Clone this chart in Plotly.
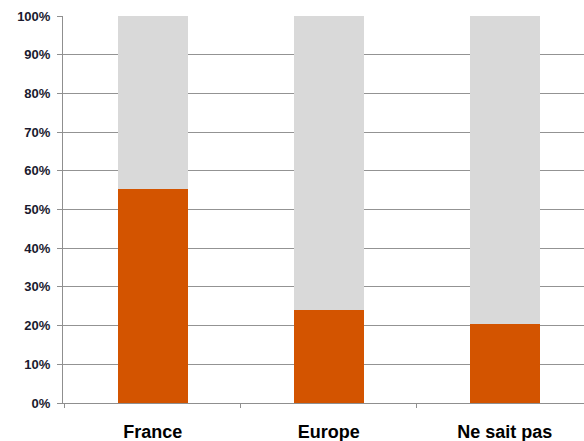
import plotly.graph_objects as go

categories = ["France", "Europe", "Ne sait pas"]
orange_values = [55.4, 24.0, 20.3]
grey_values = [100 - v for v in orange_values]
y_ticks = list(range(0, 101, 10))
y_tick_labels = [f"{t}%" for t in y_ticks]

fig = go.Figure()
fig.add_trace(go.Bar(x=categories, y=orange_values, marker=dict(color="#D35400", line=dict(width=0)), width=0.4))
fig.add_trace(go.Bar(x=categories, y=grey_values, marker=dict(color="#D9D9D9", line=dict(width=0)), width=0.4))

fig.update_layout(
    barmode="stack",
    width=584, height=441,
    margin=dict(l=63, r=0, t=16, b=38),
    paper_bgcolor="white", plot_bgcolor="white",
    showlegend=False,
    xaxis=dict(
        type="category", range=[-0.51, 2.45],
        showline=True, linecolor="#8f8f8f", linewidth=1,
        ticks="outside", tickson="boundaries", ticklen=4, tickcolor="#8f8f8f",
        showgrid=False,
        tickfont=dict(family="Liberation Sans", size=18, color="black", weight="bold"),
        ticklabelstandoff=12,
    ),
    yaxis=dict(
        range=[0, 100], tickvals=y_ticks, ticktext=y_tick_labels,
        showline=True, linecolor="#8f8f8f", linewidth=1,
        ticks="outside", ticklen=5, tickcolor="#8f8f8f",
        showgrid=True, gridcolor="#939393", gridwidth=1,
        zeroline=False,
        tickfont=dict(family="Liberation Sans", size=13, color="#1a1a2e", weight="bold"),
        ticklabelstandoff=4,
    ),
)
fig.write_html("out.html")
